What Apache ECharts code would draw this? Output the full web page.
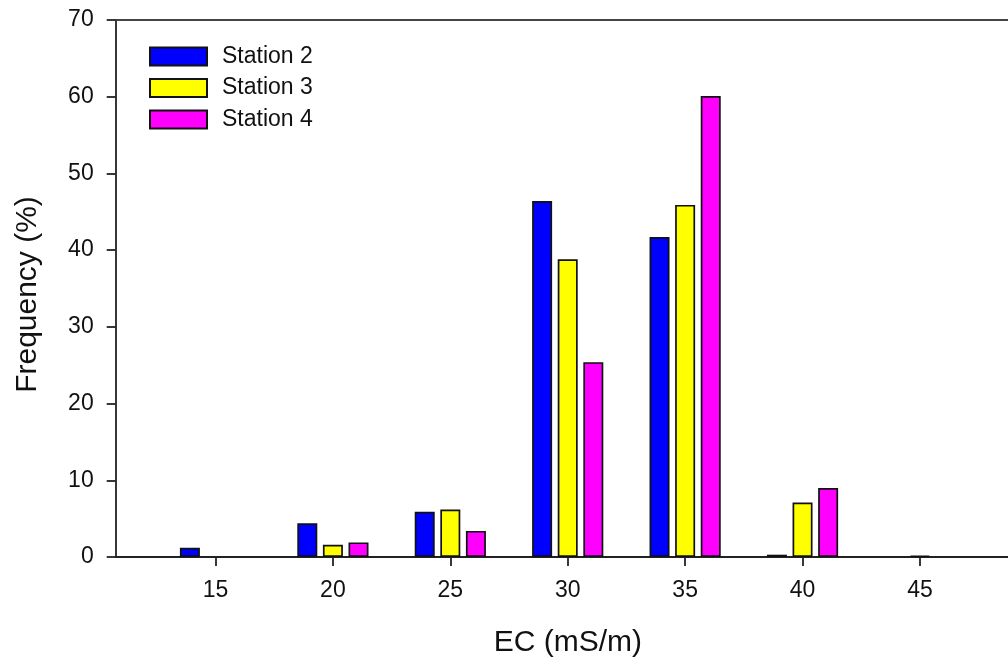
<!DOCTYPE html>
<html>
<head>
<meta charset="utf-8">
<script src="https://cdn.jsdelivr.net/npm/echarts@6/dist/echarts.min.js"></script>
<style>html,body{margin:0;padding:0;background:#fff;}#c{width:1008px;height:663px;}</style>
</head>
<body>
<div id="c"></div>
<script>
const categories = [15, 20, 25, 30, 35, 40, 45];
const station2 = [1.2, 4.4, 5.9, 46.4, 41.7, 0.3, null];
const station3 = [null, 1.6, 6.2, 38.8, 45.9, 7.1, 0.15];
const station4 = [null, 1.9, 3.4, 25.4, 60.1, 9.0, null];
const seriesNames = ['Station 2', 'Station 3', 'Station 4'];
const seriesColors = ['#0000ff', '#ffff00', '#ff00ff'];
const yTicks = [0, 10, 20, 30, 40, 50, 60, 70];

const FONT = 'Liberation Sans, Arial, sans-serif';
const allValues = [station2, station3, station4];
const chart = echarts.init(document.getElementById('c'), null, {renderer: 'canvas'});
const series = allValues.map((vals, i) => ({
  name: seriesNames[i],
  type: 'bar',
  barWidth: 20,
  barGap: '28%',
  data: categories.map((c, j) => [c, vals[j]]),
  itemStyle: {color: seriesColors[i], borderColor: '#111', borderWidth: 1.7},
  emphasis: {disabled: true}
}));

chart.setOption({
  animation: false,
  backgroundColor: '#fff',
  grid: {left: 115.7, top: 20, bottom: 103.3, right: 0},
  legend: {
    orient: 'vertical', left: 149, top: 45, padding: 0,
    itemWidth: 57, itemHeight: 18, itemGap: 8.5,
    icon: 'rect',
    data: seriesNames,
    textStyle: {fontFamily: FONT, fontSize: 23, color: '#111', padding: [0, 0, 0, 10]}
  },
  xAxis: [{
    type: 'value', min: 10.75, max: 48.75,
    name: 'EC (mS/m)', nameLocation: 'middle', nameGap: 71,
    nameTextStyle: {fontFamily: FONT, fontSize: 30, color: '#111', verticalAlign: 'top', padding: [0, 0, 0, 12]},
    splitLine: {show: false},
    axisLine: {show: true, onZero: false, lineStyle: {color: '#222', width: 1.8}},
    axisTick: {show: true, length: 9, customValues: categories, lineStyle: {color: '#222', width: 1.8}},
    axisLabel: {customValues: categories, margin: 22, fontFamily: FONT, fontSize: 23, color: '#111'}
  }, {
    type: 'value', min: 10.75, max: 48.75, position: 'top',
    splitLine: {show: false},
    axisLine: {show: true, onZero: false, lineStyle: {color: '#444', width: 1.8}},
    axisTick: {show: false}, axisLabel: {show: false}
  }],
  yAxis: {
    type: 'value', min: 0, max: 70, interval: 10,
    name: 'Frequency (%)', nameLocation: 'middle', nameGap: 73, nameRotate: 90,
    nameTextStyle: {fontFamily: FONT, fontSize: 30, color: '#111', padding: [0, 12, 0, 0]},
    splitLine: {show: false},
    axisLine: {show: true, lineStyle: {color: '#222', width: 1.8}},
    axisTick: {show: true, length: 9, lineStyle: {color: '#222', width: 1.8}},
    axisLabel: {margin: 22, fontFamily: FONT, fontSize: 23, color: '#111', customValues: yTicks}
  },
  series: series
});
</script>
</body>
</html>
